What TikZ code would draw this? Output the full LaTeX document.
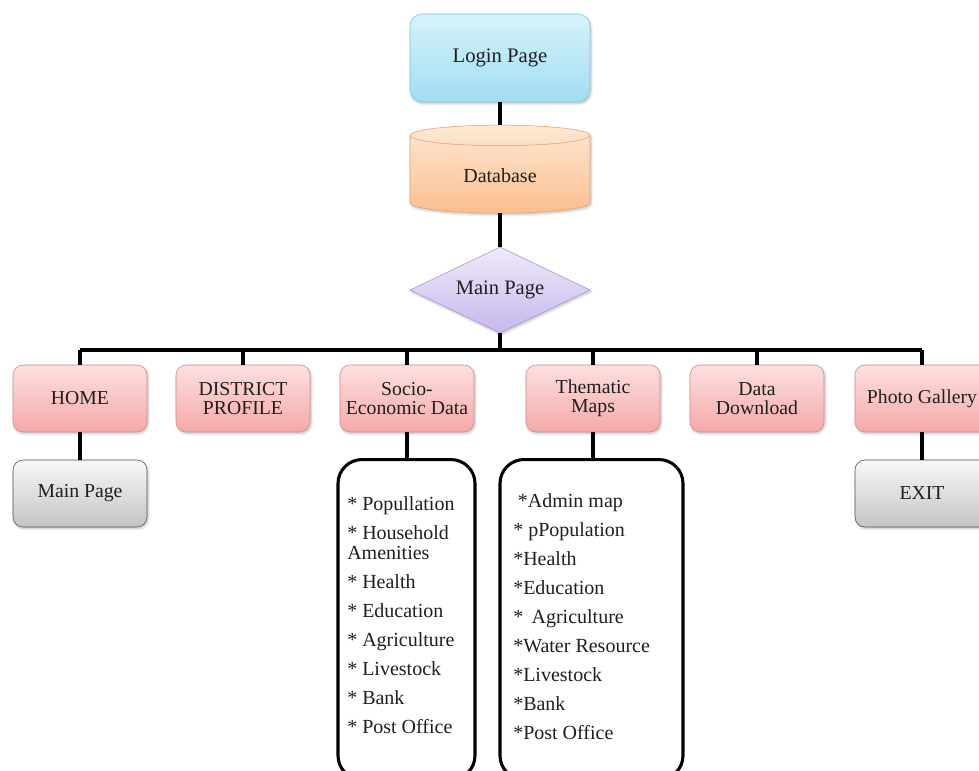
\documentclass[tikz,border=0pt]{standalone}
\usepackage{fontspec}
\setmainfont{Liberation Serif}
\usepackage{tikz}
\usetikzlibrary{shapes}
\usetikzlibrary{shadows.blur}
\usepackage{xcolor}

\definecolor{loginTop}{RGB}{214,242,251}
\definecolor{loginBot}{RGB}{160,222,242}
\definecolor{loginLine}{RGB}{128,196,220}
\definecolor{dbTop}{RGB}{254,232,212}
\definecolor{dbBot}{RGB}{251,190,142}
\definecolor{dbLine}{RGB}{226,160,110}
\definecolor{mainTop}{RGB}{240,234,250}
\definecolor{mainBot}{RGB}{200,184,236}
\definecolor{mainLine}{RGB}{166,146,212}
\definecolor{pinkTop}{RGB}{253,224,224}
\definecolor{pinkBot}{RGB}{245,168,168}
\definecolor{pinkLine}{RGB}{212,136,136}
\definecolor{grayTop}{RGB}{248,248,248}
\definecolor{grayBot}{RGB}{196,196,196}
\definecolor{grayLine}{RGB}{80,80,80}

\tikzset{
  shadowed/.style={blur shadow={shadow blur steps=6, shadow xshift=0.8pt, shadow yshift=-1.2pt, shadow opacity=25}},
  menubox/.style={rectangle, rounded corners=7.5pt, draw=pinkLine, top color=pinkTop, bottom color=pinkBot,
    minimum width=100.5pt, minimum height=50.25pt, align=center, font=\fontsize{14.8}{14}\selectfont, text=black!88, shadowed},
  endbox/.style={rectangle, rounded corners=7.5pt, draw=grayLine, top color=grayTop, bottom color=grayBot,
    minimum width=100.5pt, minimum height=50.25pt, align=center, font=\fontsize{14.8}{14}\selectfont, text=black!88, shadowed},
  listbox/.style={rectangle, rounded corners=18pt, draw, line width=2.3pt, fill=white, minimum height=240pt},
  listtext/.style={anchor=north west, inner sep=0pt, align=left, font=\fontsize{15}{15}\selectfont, text=black!88},
  link/.style={line width=2.4pt, black}
}

\begin{document}
\begin{tikzpicture}[x=0.75pt,y=0.75pt,yscale=-1,xscale=1]
\useasboundingbox (0,0) rectangle (979,771);

%Shape: Login box
\node (login) at (500,58) [rectangle, rounded corners=9pt, draw=loginLine, top color=loginTop, bottom color=loginBot, minimum width=135pt, minimum height=66pt, font=\fontsize{15.5}{15}\selectfont, text=black!88, shadowed] {Login Page};
%Shape: Can
\node (db) at (500,176) [cylinder, shape border rotate=90, aspect=0.25, draw=dbLine, top color=dbTop, bottom color=dbBot, minimum width=135pt, minimum height=66pt, font=\fontsize{15}{15}\selectfont, text=black!88, shadowed] {Database};
%Shape: Diamond
\node (main) at (500,290) [diamond, aspect=2.1, draw=mainLine, top color=mainTop, bottom color=mainBot, minimum width=135pt, minimum height=64.5pt, inner sep=0pt, font=\fontsize{15.4}{15}\selectfont, text=black!88, shadowed] {Main Page};

%Shape: menu row
\node (home) at (80,398.5) [menubox] {HOME};
\node (district) at (243,398.5) [menubox] {DISTRICT\\PROFILE};
\node (socio) at (407,398.5) [menubox] {Socio-\\Economic Data};
\node (thematic) at (593,398.5) [menubox] {Thematic\\Maps};
\node (download) at (757,398.5) [menubox] {Data\\Download};
\node (gallery) at (922,398.5) [menubox] {Photo Gallery};

%Shape: end boxes
\node (homepage) at (80,493.5) [endbox] {Main Page};
\node (exit) at (922,493.5) [endbox] {EXIT};

%Shape: list boxes
\node (sociolist) at (406.5,458) [listbox, anchor=north, minimum width=102.75pt] {};
\node (thematiclist) at (591.5,458) [listbox, anchor=north, minimum width=137.25pt] {};

% Text Node
\node (sociotext) at (347,496) [listtext] {* Popullation\\[6.75pt]* Household\\Amenities\\[6.75pt]* Health\\[6.75pt]* Education\\[6.75pt]* Agriculture\\[6.75pt]* Livestock\\[6.75pt]* Bank\\[6.75pt]* Post Office};
% Text Node
\node (thematictext) at (513,493) [listtext] {\hspace{3.5pt}*Admin map\\[6.75pt]* pPopulation\\[6.75pt]*Health\\[6.75pt]*Education\\[6.75pt]* \,Agriculture\\[6.75pt]*Water Resource\\[6.75pt]*Livestock\\[6.75pt]*Bank\\[6.75pt]*Post Office};

%Straight Lines
\coordinate (bus) at (500,350);
\draw [link] (login.south) -- (db.north);
\draw [link] (db.south) -- (main.north);
\draw [link] (main.south) -- (bus);
\draw [link] (home.north |- bus) -- (gallery.north |- bus);
\foreach \n in {home,district,socio,thematic,download,gallery}
  \draw [link] (\n.north |- bus) -- (\n.north);
\draw [link] (home.south) -- (homepage.north);
\draw [link] (gallery.south) -- (exit.north);
\draw [link] (socio.south) -- (socio.south |- sociolist.north);
\draw [link] (thematic.south) -- (thematic.south |- thematiclist.north);

\end{tikzpicture}
\end{document}
